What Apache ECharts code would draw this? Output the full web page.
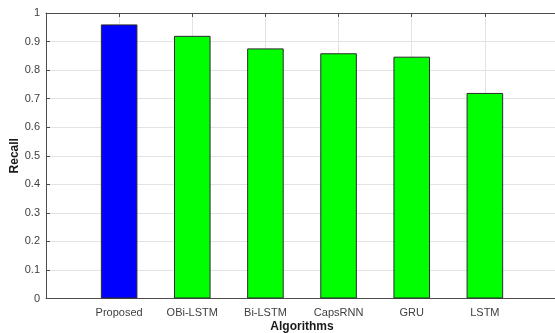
<!DOCTYPE html>
<html>
<head>
<meta charset="utf-8">
<script src="https://cdn.jsdelivr.net/npm/echarts@6/dist/echarts.min.js"></script>
<style>
  html, body { margin: 0; padding: 0; background: #fff; }
  #chart { width: 555px; height: 333px; }
</style>
</head>
<body>
<div id="chart"></div>
<script>
// Recall of each algorithm
const algorithms = ['Proposed', 'OBi-LSTM', 'Bi-LSTM', 'CapsRNN', 'GRU', 'LSTM'];
const recall = [0.96, 0.92, 0.876, 0.859, 0.847, 0.72];
const barColors = ['#0000ff', '#00ff00', '#00ff00', '#00ff00', '#00ff00', '#00ff00'];
const yTicks = [0, 0.1, 0.2, 0.3, 0.4, 0.5, 0.6, 0.7, 0.8, 0.9, 1];

// Pad the category axis with an empty slot at each end so the bars sit at 1..6 on a 0..7 span
const slots = [''].concat(algorithms, ['']);
const values = ['-'].concat(recall.map((v, i) => ({
  value: v,
  itemStyle: { color: barColors[i] }
})), ['-']);

const axisGray = '#4d4d4d';
const labelFont = { fontFamily: 'Liberation Sans, Arial, sans-serif', fontSize: 11, color: '#404040' };

const chart = echarts.init(document.getElementById('chart'), null, { renderer: 'canvas' });
chart.setOption({
  animation: false,
  backgroundColor: '#ffffff',
  grid: { left: 46, top: 13, right: -3, bottom: 34.5, containLabel: false, outerBoundsMode: 'none' },
  xAxis: [
    {
      type: 'category',
      data: slots,
      boundaryGap: false,
      position: 'bottom',
      name: 'Algorithms',
      nameLocation: 'middle',
      nameGap: 22,
      nameMoveOverlap: false,
      nameTextStyle: { fontFamily: 'Liberation Sans, Arial, sans-serif', fontSize: 12, fontWeight: 'bold', color: '#1a1a1a' },
      axisLine: { show: true, lineStyle: { color: axisGray, width: 1 } },
      axisTick: { show: true, inside: true, length: 4, lineStyle: { color: axisGray } },
      axisLabel: Object.assign({ margin: 9, interval: 0 }, labelFont),
      splitLine: { show: true, lineStyle: { color: '#e3e3e3', width: 1 } }
    },
    {
      type: 'category',
      data: slots,
      boundaryGap: false,
      position: 'top',
      axisLine: { show: true, lineStyle: { color: axisGray, width: 1 } },
      axisTick: { show: true, inside: true, length: 4, lineStyle: { color: axisGray } },
      axisLabel: { show: false },
      splitLine: { show: false }
    }
  ],
  yAxis: {
    type: 'value',
    min: 0,
    max: 1,
    interval: 0.1,
    name: 'Recall',
    nameLocation: 'middle',
    nameGap: 25,
    nameMoveOverlap: false,
    nameTextStyle: { fontFamily: 'Liberation Sans, Arial, sans-serif', fontSize: 12, fontWeight: 'bold', color: '#1a1a1a' },
    axisLine: { show: true, lineStyle: { color: axisGray, width: 1 } },
    axisTick: { show: true, inside: true, length: 4, lineStyle: { color: axisGray } },
    axisLabel: Object.assign({
      margin: 6,
      formatter: function (v) {
        const t = yTicks.find(x => Math.abs(x - v) < 1e-9);
        return t === undefined ? '' : String(t);
      }
    }, labelFont),
    splitLine: { show: true, lineStyle: { color: '#e3e3e3', width: 1 } }
  },
  series: [
    {
      type: 'bar',
      data: values,
      xAxisIndex: 0,
      barWidth: '50%',
      itemStyle: { borderColor: '#2b2b2b', borderWidth: 1 },
      z: 3
    }
  ]
});
</script>
</body>
</html>
